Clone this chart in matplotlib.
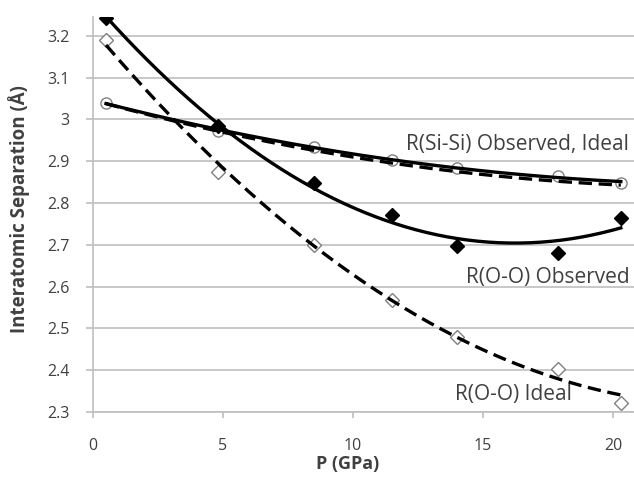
import numpy as np
import matplotlib
matplotlib.use("Agg")
import matplotlib.pyplot as plt

plt.rcParams['font.family'] = ['Open Sans', 'DejaVu Sans']

# pressure points (GPa)
p = [0.5, 4.8, 8.5, 11.5, 14.0, 17.9, 20.3]

si_si_obs = [3.04, 2.972, 2.934, 2.903, 2.884, 2.865, 2.848]
si_si_ideal = [3.04, 2.968, 2.925, 2.897, 2.876, 2.855, 2.840]
o_o_obs = [3.243, 2.985, 2.848, 2.772, 2.698, 2.680, 2.764]
o_o_ideal = [3.190, 2.873, 2.700, 2.568, 2.480, 2.403, 2.322]

x_ticks = [0, 5, 10, 15, 20]
y_ticks = [2.3, 2.4, 2.5, 2.6, 2.7, 2.8, 2.9, 3.0, 3.1, 3.2]
y_ticklabels = ['2.3', '2.4', '2.5', '2.6', '2.7', '2.8', '2.9', '3', '3.1', '3.2']

fig = plt.figure(figsize=(6.34, 4.79), dpi=100)
ax = fig.add_axes([0.1467, 0.1399, 0.853, 0.8246])

grey = '#bfbfbf'
txt = '#404040'


def trend(x, y, ax, style):
    # 2nd order polynomial trendline, as in the spreadsheet
    c = np.polyfit(x, y, 2)
    xx = np.linspace(min(x), max(x), 200)
    ax.plot(xx, np.polyval(c, xx), color='black', lw=2.4, linestyle=style,
            dashes=(4, 2) if style == '--' else (None, None), zorder=3)


trend(p, si_si_obs, ax, '-')
trend(p, si_si_ideal, ax, '--')
trend(p, o_o_obs, ax, '-')
trend(p, o_o_ideal, ax, '--')

ax.plot(p, si_si_obs, 'o', ms=8, mfc='white', mec='#808080', mew=1.0, zorder=2)
ax.plot(p, o_o_ideal, 'D', ms=7, mfc='white', mec='#808080', mew=1.0, zorder=2)
ax.plot(p, o_o_obs, 'D', ms=7, mfc='black', mec='black', zorder=4)

ax.set_xlim(0, 20.8)
ax.set_ylim(2.3, 3.245)
ax.set_xticks(x_ticks)
ax.set_yticks(y_ticks)
ax.set_yticklabels(y_ticklabels)
ax.grid(axis='y', color=grey, lw=1.2)
ax.set_axisbelow(True)

for s in ['top', 'right']:
    ax.spines[s].set_visible(False)
for s in ['left', 'bottom']:
    ax.spines[s].set_color(grey)
    ax.spines[s].set_linewidth(1.2)
ax.tick_params(axis='both', colors=grey, width=1.2, labelsize=11.5,
               labelcolor=txt)
ax.tick_params(axis='y', length=5, pad=12)
ax.tick_params(axis='x', length=4, pad=15)

ax.set_xlabel('P (GPa)', fontsize=13, fontweight='bold', color=txt)
ax.set_ylabel('Interatomic Separation (Å)', fontsize=13.5, fontweight='bold',
              color=txt)
ax.xaxis.set_label_coords(0.47, -0.108)
ax.yaxis.set_label_coords(-0.116, 0.515)

ax.text(20.6, 2.94, 'R(Si-Si) Observed, Ideal', fontsize=15, color=txt,
        ha='right', va='center')
ax.text(20.65, 2.621, 'R(O-O) Observed', fontsize=15, color=txt,
        ha='right', va='center')
ax.text(18.4, 2.341, 'R(O-O) Ideal', fontsize=15, color=txt,
        ha='right', va='center')

fig.savefig('out.png', dpi=100)
